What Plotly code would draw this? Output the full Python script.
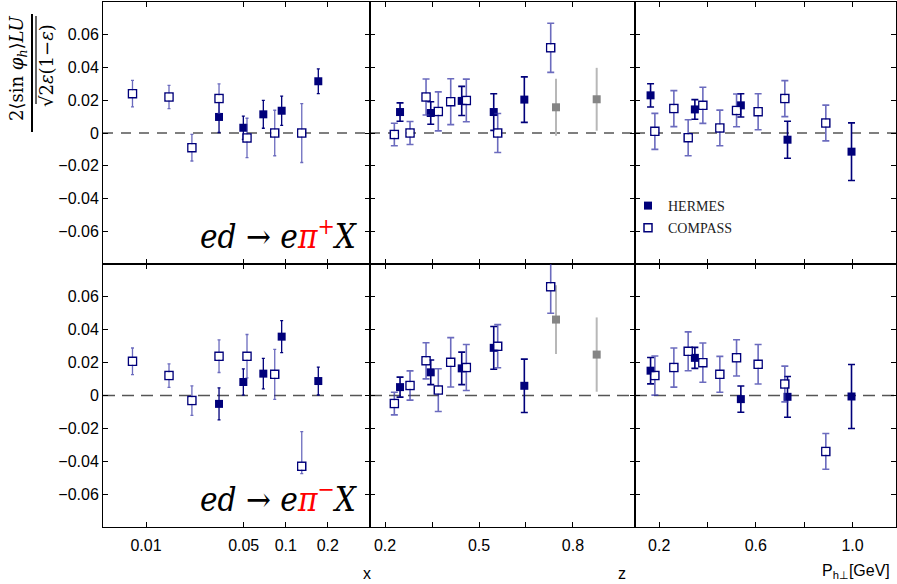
import plotly.graph_objects as go

# ---------------- bins ----------------
x_compass = [0.0080, 0.0146, 0.0213, 0.0333, 0.0528, 0.0834, 0.1302]
x_hermes = [0.0333, 0.0497, 0.0691, 0.0935, 0.171]
z_compass = [0.2297, 0.2798, 0.3309, 0.370, 0.4097, 0.4595, 0.5597, 0.7289]
z_hermes = [0.2479, 0.3459, 0.4448, 0.547, 0.6447]
z_gray = [0.7458, 0.8757]
pt_compass = [0.1822, 0.2608, 0.320, 0.3808, 0.4511, 0.5202, 0.6095, 0.72, 0.8896]
pt_hermes = [0.1644, 0.3477, 0.538, 0.7311, 0.9959]

# ---------------- pi+ ----------------
pip_x_compass = [0.024, 0.022, -0.009, 0.021, -0.003, 0.0, 0.0]
pip_x_compass_err = [0.0081, 0.0071, 0.0081, 0.009, 0.012, 0.0139, 0.018]
pip_x_hermes = [0.0098, 0.0032, 0.0114, 0.0136, 0.0316]
pip_x_hermes_err = [0.0095, 0.0071, 0.0085, 0.0089, 0.0075]

pip_z_compass = [-0.0009, 0.0, 0.022, 0.0132, 0.0191, 0.0199, 0.0, 0.052]
pip_z_compass_err = [0.0069, 0.0070, 0.011, 0.0119, 0.014, 0.013, 0.0119, 0.015]
pip_z_hermes = [0.0128, 0.0122, 0.0196, 0.0128, 0.0204]
pip_z_hermes_err = [0.0056, 0.0069, 0.0089, 0.0112, 0.0139]
pip_z_gray = [0.0157, 0.0206]
pip_z_gray_err = [0.0174, 0.0192]

pip_pt_compass = [0.001, 0.0149, -0.0029, 0.0169, 0.0031, 0.0138, 0.013, 0.021, 0.0061]
pip_pt_compass_err = [0.011, 0.011, 0.011, 0.011, 0.0109, 0.010, 0.011, 0.011, 0.0109]
pip_pt_hermes = [0.023, 0.0144, 0.0169, -0.0041, -0.0114]
pip_pt_hermes_err = [0.0071, 0.006, 0.0071, 0.0113, 0.0176]

# ---------------- pi- ----------------
pim_x_compass = [0.0208, 0.0121, -0.0031, 0.0239, 0.0239, 0.0129, -0.043]
pim_x_compass_errp = [0.0081, 0.0072, 0.009, 0.0099, 0.0132, 0.0152, 0.021]
pim_x_compass_errm = [0.0081, 0.0072, 0.009, 0.0099, 0.0132, 0.0152, 0.0045]
pim_x_hermes = [-0.0051, 0.0082, 0.0133, 0.0358, 0.0088]
pim_x_hermes_err = [0.0097, 0.008, 0.0093, 0.0097, 0.0085]

pim_z_compass = [-0.0049, 0.0061, 0.0211, 0.0033, 0.0202, 0.017, 0.030, 0.0661]
pim_z_compass_err = [0.0069, 0.0089, 0.011, 0.013, 0.015, 0.014, 0.0131, 0.0161]
pim_z_hermes = [0.0051, 0.0141, 0.0165, 0.029, 0.0059]
pim_z_hermes_err = [0.0061, 0.0075, 0.0099, 0.013, 0.0162]
pim_z_gray = [0.0462, 0.0249]
pim_z_gray_err = [0.0209, 0.0226]

pim_pt_compass = [0.0121, 0.017, 0.0269, 0.020, 0.0129, 0.0229, 0.019, 0.007, -0.034]
pim_pt_compass_err = [0.0119, 0.0119, 0.0118, 0.0119, 0.0109, 0.011, 0.012, 0.0109, 0.0109]
pim_pt_hermes = [0.0151, 0.0229, -0.0022, -0.0008, -0.0006]
pim_pt_hermes_err = [0.008, 0.0064, 0.008, 0.0124, 0.0195]

# ---------------- ticks ----------------
x_tickvals = [0.01, 0.05, 0.1, 0.2]
x_ticktext = ["0.01", "0.05", "0.1", "0.2"]
z_tickvals = [0.2, 0.5, 0.8]
z_ticktext = ["0.2", "0.5", "0.8"]
z_minor = [0.35, 0.65]
pt_tickvals = [0.2, 0.6, 1.0]
pt_ticktext = ["0.2", "0.6", "1.0"]
pt_minor = [0.4, 0.8]
y_tickvals = [-0.06, -0.04, -0.02, 0, 0.02, 0.04, 0.06]
y_ticktext = ["\u22120.06", "\u22120.04", "\u22120.02", "0", "0.02", "0.04", "0.06"]

W, H = 897, 584
NAVY = "#00007a"
C_ERR = "rgba(50,50,165,0.72)"

fig = go.Figure()


def add_panel(ax, xh, yh, eh, xc, yc, ec, ecm=None, xg=None, yg=None, eg=None, small_caps=False, legend=False):
    xa = "x" if ax == 1 else "x%d" % ax
    ya = "y" if ax == 1 else "y%d" % ax
    capw = 1.5 if small_caps else 3.5
    th = 1.3 if small_caps else 1.6
    if xg is not None:
        fig.add_trace(go.Scatter(
            x=xg, y=yg, mode="markers", xaxis=xa, yaxis=ya, showlegend=False,
            marker=dict(symbol="square", size=8, color="#858585"),
            error_y=dict(type="data", array=eg, color="#b8b8b8", thickness=2, width=0)))
    fig.add_trace(go.Scatter(
        x=xh, y=yh, mode="markers", xaxis=xa, yaxis=ya, name="HERMES",
        legendgroup="H", showlegend=legend,
        marker=dict(symbol="square", size=8, color=NAVY),
        error_y=dict(type="data", array=eh, color=NAVY, thickness=th, width=capw)))
    ey = dict(type="data", array=ec, color=C_ERR, thickness=th, width=capw)
    if ecm is not None:
        ey["symmetric"] = False
        ey["arrayminus"] = ecm
    fig.add_trace(go.Scatter(
        x=xc, y=yc, mode="markers", xaxis=xa, yaxis=ya, name="COMPASS",
        legendgroup="C", showlegend=legend,
        marker=dict(symbol="square-open", size=8, color=NAVY, line=dict(width=1.5, color=NAVY)),
        error_y=ey))
    # keep the open squares white inside
    fig.add_trace(go.Scatter(
        x=xc, y=yc, mode="markers", xaxis=xa, yaxis=ya, showlegend=False, hoverinfo="skip",
        marker=dict(symbol="square", size=6.5, color="white")))


add_panel(1, x_hermes, pip_x_hermes, pip_x_hermes_err, x_compass, pip_x_compass, pip_x_compass_err,
          small_caps=True)
add_panel(2, z_hermes, pip_z_hermes, pip_z_hermes_err, z_compass, pip_z_compass, pip_z_compass_err,
          xg=z_gray, yg=pip_z_gray, eg=pip_z_gray_err)
add_panel(3, pt_hermes, pip_pt_hermes, pip_pt_hermes_err, pt_compass, pip_pt_compass, pip_pt_compass_err,
          legend=True)
add_panel(4, x_hermes, pim_x_hermes, pim_x_hermes_err, x_compass, pim_x_compass, pim_x_compass_errp,
          ecm=pim_x_compass_errm, small_caps=True)
add_panel(5, z_hermes, pim_z_hermes, pim_z_hermes_err, z_compass, pim_z_compass, pim_z_compass_err,
          xg=z_gray, yg=pim_z_gray, eg=pim_z_gray_err)
add_panel(6, pt_hermes, pim_pt_hermes, pim_pt_hermes_err, pt_compass, pim_pt_compass, pim_pt_compass_err)

xdom = [(103, 370), (370, 635), (635, 896)]
ydom = [(2, 264), (264, 527)]

axis_common = dict(showline=True, linecolor="black", linewidth=1, mirror="ticks",
                   ticks="inside", ticklen=5, tickwidth=1, tickcolor="black",
                   showgrid=False, zeroline=False,
                   tickfont=dict(family="Liberation Sans, Arial, sans-serif", size=16, color="black"))

layout = {}
for r in range(2):
    for c in range(3):
        k = r * 3 + c + 1
        sx = "xaxis" if k == 1 else "xaxis%d" % k
        sy = "yaxis" if k == 1 else "yaxis%d" % k
        anc_x = "y" if k == 1 else "y%d" % k
        anc_y = "x" if k == 1 else "x%d" % k
        xa = dict(axis_common)
        xa.update(domain=[xdom[c][0] / W, xdom[c][1] / W], anchor=anc_x,
                  showticklabels=(r == 1), ticklabelstandoff=4)
        if c == 0:
            xa.update(type="log", range=[-2.308, -0.397], tickvals=x_tickvals, ticktext=x_ticktext)
        elif c == 1:
            xa.update(range=[0.152, 0.998], tickvals=z_tickvals, ticktext=z_ticktext,
                      minor=dict(tickvals=z_minor, ticks="inside", ticklen=5, tickcolor="black"))
        else:
            xa.update(range=[0.10, 1.18], tickvals=pt_tickvals, ticktext=pt_ticktext,
                      minor=dict(tickvals=pt_minor, ticks="inside", ticklen=5, tickcolor="black"))
        ya = dict(axis_common)
        ya.update(domain=[1 - ydom[r][1] / H, 1 - ydom[r][0] / H], anchor=anc_y,
                  range=[-0.08, 0.08], tickvals=y_tickvals, ticktext=y_ticktext,
                  showticklabels=(c == 0))
        layout[sx] = xa
        layout[sy] = ya

shapes = []
for k in range(1, 7):
    xa = "x" if k == 1 else "x%d" % k
    ya = "y" if k == 1 else "y%d" % k
    top = k <= 3
    shapes.append(dict(type="line", xref=xa + " domain", yref=ya, x0=0, x1=1, y0=0, y1=0,
                       line=dict(color="black" if top else "#555555", width=1.2 if top else 1.6,
                                 dash="10px,8px" if top else "12px,7px"), layer="below"))
# fraction bar and radical vinculum of the y-axis title
shapes.append(dict(type="line", xref="paper", yref="paper", x0=32 / W, x1=32 / W,
                   y0=1 - 132 / H, y1=1 - 14 / H, line=dict(color="black", width=2)))
shapes.append(dict(type="line", xref="paper", yref="paper", x0=36 / W, x1=36 / W,
                   y0=1 - 104 / H, y1=1 - 16 / H, line=dict(color="black", width=1.2)))

annotations = []
serif = "DejaVu Serif, Liberation Serif, serif"
annotations.append(dict(
    text="2\u27e8sin <i>\u03c6<sub>h</sub></i>\u27e9<i>LU</i>",
    x=18 / W, y=1 - 68 / H, xref="paper", yref="paper", xanchor="center", yanchor="middle",
    showarrow=False, textangle=-90, font=dict(family=serif, size=18, color="black")))
annotations.append(dict(
    text="\u221a2<i>\u03b5</i>(1\u2212<i>\u03b5</i>)",
    x=46 / W, y=1 - 66 / H, xref="paper", yref="paper", xanchor="center", yanchor="middle",
    showarrow=False, textangle=-90, font=dict(family=serif, size=18, color="black")))

react = "<i>ed</i> \u2192 <i>e</i><span style='color:red'><i>\u03c0</i><sup>{}</sup></span><i>X</i>"
rfont = dict(family="DejaVu Serif Condensed, DejaVu Serif, serif", size=33, color="black")
annotations.append(dict(text=react.format("+"), x=360 / W, y=1 - 258 / H, xref="paper", yref="paper",
                        xanchor="right", yanchor="bottom", showarrow=False, font=rfont))
annotations.append(dict(text=react.format("\u2212"), x=360 / W, y=1 - 521 / H, xref="paper", yref="paper",
                        xanchor="right", yanchor="bottom", showarrow=False, font=rfont))

sans = "Liberation Sans, Arial, sans-serif"
annotations.append(dict(text="x", x=367 / W, y=1 - 573 / H, xref="paper", yref="paper", showarrow=False,
                        xanchor="center", yanchor="middle", font=dict(family=sans, size=16, color="black")))
annotations.append(dict(text="z", x=622 / W, y=1 - 573 / H, xref="paper", yref="paper", showarrow=False,
                        xanchor="center", yanchor="middle", font=dict(family=sans, size=16, color="black")))
annotations.append(dict(text="P<sub>h\u22a5</sub>[GeV]", x=892 / W, y=1 - 571 / H, xref="paper", yref="paper",
                        xanchor="right", yanchor="middle", showarrow=False,
                        font=dict(family=sans, size=16, color="black")))

fig.update_layout(
    width=W, height=H, margin=dict(l=0, r=0, t=0, b=0),
    paper_bgcolor="white", plot_bgcolor="white",
    shapes=shapes, annotations=annotations,
    legend=dict(x=628 / W, y=1 - 190 / H, xanchor="left", yanchor="top",
                bgcolor="rgba(0,0,0,0)", tracegroupgap=1,
                font=dict(family="Liberation Serif, serif", size=14, color="#222222")),
    **layout)

fig.write_html("out.html", config={"displayModeBar": False},
               post_script="document.body.style.margin='0px';")
